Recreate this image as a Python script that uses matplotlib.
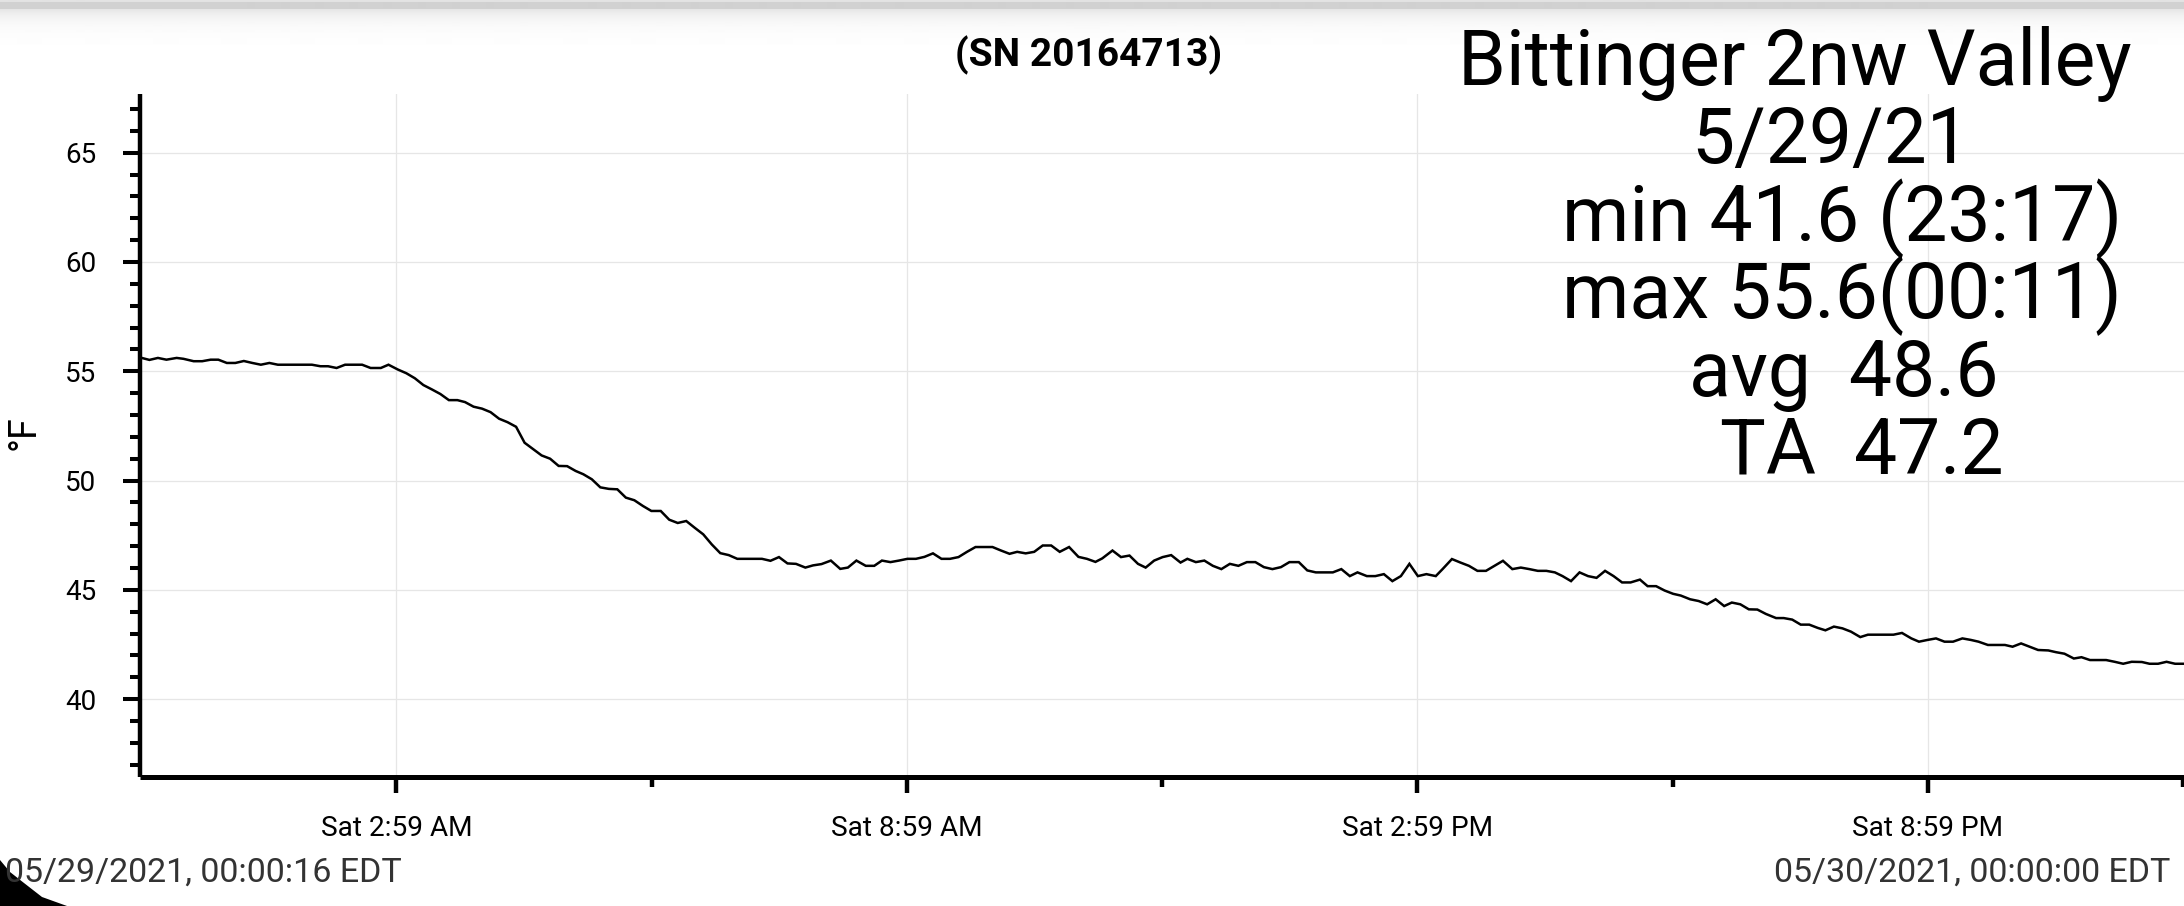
import numpy as np
import matplotlib
matplotlib.use("Agg")
import matplotlib.pyplot as plt
from matplotlib.patches import Polygon

plt.rcParams['font.family'] = ['Roboto', 'DejaVu Sans']

# ---------------- data ----------------
hours = [
    0.00, 0.08, 0.18, 0.28, 0.40, 0.48, 0.60, 0.70, 0.80, 0.89, 0.99, 1.09, 1.19, 1.29, 1.39, 1.49,
    1.59, 1.69, 1.79, 1.89, 1.99, 2.09, 2.18, 2.28, 2.38, 2.48, 2.58, 2.68, 2.80, 2.89, 3.00, 3.10,
    3.20, 3.30, 3.40, 3.50, 3.60, 3.70, 3.79, 3.89, 3.99, 4.09, 4.19, 4.29, 4.39, 4.49, 4.59, 4.69,
    4.79, 4.89, 4.99, 5.09, 5.18, 5.28, 5.38, 5.48, 5.58, 5.68, 5.78, 5.88, 5.98,
    6.09, 6.19, 6.29, 6.39, 6.49, 6.59, 6.69, 6.79, 6.89, 6.99, 7.09, 7.19, 7.28, 7.38, 7.48, 7.58,
    7.68, 7.79, 7.88, 7.98, 8.09, 8.20, 8.29, 8.39, 8.50, 8.60, 8.69, 8.79, 8.89, 8.99, 9.09, 9.19,
    9.29, 9.39, 9.49, 9.59, 9.69, 9.79, 9.89, 9.99, 10.09, 10.19, 10.28, 10.38, 10.48, 10.58, 10.68,
    10.78, 10.89, 11.00, 11.10, 11.20, 11.28, 11.40, 11.50, 11.60, 11.70, 11.79, 11.89, 11.99,
    12.09, 12.20, 12.28, 12.38, 12.48, 12.58, 12.68, 12.78, 12.88, 12.98, 13.08, 13.18, 13.28, 13.38,
    13.48, 13.59, 13.69, 13.79, 13.89, 13.99, 14.09, 14.19, 14.28, 14.39, 14.49, 14.59, 14.69, 14.79,
    14.89, 14.99, 15.09, 15.20, 15.28, 15.39, 15.49, 15.59, 15.69, 15.79, 15.89, 15.99, 16.10, 16.20,
    16.30, 16.40, 16.50, 16.60, 16.69, 16.79, 16.89, 16.99, 17.09, 17.19, 17.29, 17.39, 17.49, 17.60,
    17.69, 17.79, 17.89, 17.99,
    18.08, 18.19, 18.29, 18.39, 18.49, 18.59, 18.68, 18.78, 18.88, 18.98, 19.08, 19.20, 19.29, 19.39,
    19.49, 19.59, 19.69, 19.78, 19.88, 19.98, 20.08, 20.19, 20.28, 20.38, 20.48, 20.58, 20.68, 20.79,
    20.88, 20.98, 21.08, 21.18, 21.28, 21.39, 21.49, 21.58, 21.69, 21.79, 21.89, 21.98, 22.08, 22.18,
    22.28, 22.40, 22.49, 22.59, 22.70, 22.79, 22.89, 22.99, 23.08, 23.18, 23.28, 23.38, 23.50, 23.59,
    23.69, 23.79, 23.89, 24.00,
]
temps_f = [
    55.60, 55.52, 55.61, 55.53, 55.61, 55.57, 55.46, 55.46, 55.53, 55.53, 55.38, 55.38, 55.47, 55.38, 55.30, 55.38,
    55.30, 55.30, 55.30, 55.30, 55.30, 55.23, 55.23, 55.15, 55.30, 55.30, 55.30, 55.15, 55.15, 55.30, 55.08, 54.91,
    54.68, 54.37, 54.17, 53.96, 53.68, 53.68, 53.59, 53.38, 53.29, 53.13, 52.83, 52.67, 52.46, 51.73, 51.44, 51.15,
    51.00, 50.67, 50.66, 50.44, 50.29, 50.06, 49.69, 49.62, 49.60, 49.22, 49.10, 48.84, 48.61,
    48.61, 48.21, 48.06, 48.15, 47.84, 47.54, 47.08, 46.68, 46.59, 46.42, 46.42, 46.42, 46.42, 46.33, 46.50, 46.21,
    46.19, 46.02, 46.12, 46.18, 46.34, 45.96, 46.02, 46.34, 46.10, 46.10, 46.34, 46.27, 46.34, 46.42, 46.42, 46.51,
    46.67, 46.42, 46.42, 46.50, 46.74, 46.96, 46.96, 46.96, 46.80, 46.65, 46.74, 46.67, 46.74, 47.03, 47.03,
    46.74, 46.96, 46.51, 46.42, 46.28, 46.44, 46.80, 46.50, 46.57, 46.19, 46.02, 46.34, 46.50,
    46.59, 46.25, 46.42, 46.27, 46.34, 46.10, 45.95, 46.19, 46.10, 46.27, 46.27, 46.04, 45.95, 46.04,
    46.27, 46.27, 45.89, 45.80, 45.80, 45.80, 45.95, 45.63, 45.80, 45.63, 45.63, 45.72, 45.40, 45.63,
    46.19, 45.63, 45.72, 45.63, 45.95, 46.41, 46.25, 46.10, 45.87, 45.87, 46.10, 46.33, 45.95, 46.02,
    45.95, 45.87, 45.87, 45.80, 45.63, 45.40, 45.80, 45.63, 45.55, 45.87, 45.63, 45.34, 45.34, 45.47,
    45.17, 45.17, 44.97, 44.82,
    44.74, 44.57, 44.49, 44.34, 44.57, 44.26, 44.42, 44.34, 44.11, 44.10, 43.90, 43.71, 43.71, 43.64,
    43.41, 43.41, 43.26, 43.15, 43.32, 43.24, 43.09, 42.84, 42.95, 42.95, 42.95, 42.95, 43.03, 42.78,
    42.63, 42.71, 42.78, 42.63, 42.63, 42.78, 42.71, 42.63, 42.48, 42.48, 42.48, 42.40, 42.55, 42.40,
    42.25, 42.23, 42.15, 42.08, 41.86, 41.92, 41.79, 41.79, 41.79, 41.71, 41.62, 41.71, 41.70, 41.62,
    41.62, 41.71, 41.62, 41.62,
]

xtick_hours = [2.983, 8.983, 14.983, 20.983]
xtick_labels = ["Sat 2:59 AM", "Sat 8:59 AM", "Sat 2:59 PM", "Sat 8:59 PM"]
xminor_hours = [5.983, 11.983, 17.983, 23.983]
ytick_values = [40, 45, 50, 55, 60, 65]
yminor_values = [37, 38, 39, 41, 42, 43, 44, 46, 47, 48, 49, 51, 52, 53, 54,
                 56, 57, 58, 59, 61, 62, 63, 64, 66, 67]

serial_text = "(SN 20164713)"
info_lines = ["Bittinger 2nw Valley", "5/29/21", "min 41.6 (23:17)",
              "max 55.6(00:11)", "avg  48.6", "TA  47.2"]
start_text = "05/29/2021, 00:00:16 EDT"
end_text = "05/30/2021, 00:00:00 EDT"
y_label = "°F"

# ---------------- figure ----------------
W, H = 2184, 906
fig = plt.figure(figsize=(W / 100, H / 100), dpi=100)
fig.patch.set_facecolor('white')

def fx(px):
    return px / W

def fy(py):
    return 1 - py / H

# top shadow band
bg = fig.add_axes([0, fy(48), 1, 48 / H])
rows = np.arange(48)
shade = np.where(rows < 2, 0.89, np.where(rows < 9, 0.82, 1 - 0.1 * np.exp(-(rows - 9) / 11.0)))
bg.imshow(shade[:, None], aspect='auto', cmap='gray', vmin=0, vmax=1,
          extent=[0, 1, 0, 1], interpolation='bilinear')
bg.set_axis_off()

ax = fig.add_axes([fx(139.8), fy(777), 1 - fx(139.8), (777 - 94.3) / H])
ax.plot(hours, temps_f, color='black', lw=1.8, solid_joinstyle='miter')

ax.set_xlim(-0.033, 23.995)
ax.set_ylim(36.44, 67.67)

ax.set_xticks(xtick_hours)
ax.set_xticklabels(xtick_labels)
ax.set_xticks(xminor_hours, minor=True)
ax.set_yticks(ytick_values)
ax.set_yticks(yminor_values, minor=True)

for s in ['top', 'right']:
    ax.spines[s].set_visible(False)
ax.spines['left'].set_linewidth(3.2)
ax.spines['bottom'].set_linewidth(3.6)
ax.spines['left'].set_capstyle('butt')
ax.spines['bottom'].set_capstyle('butt')

ax.tick_params(axis='x', which='major', length=11.7, width=3.2, pad=16, labelsize=20.2, color='black')
ax.tick_params(axis='x', which='minor', length=7.0, width=3.2)
ax.tick_params(axis='y', which='major', length=12.5, width=2.9, pad=19, labelsize=20)
ax.tick_params(axis='y', which='minor', length=7.2, width=2.9)

ax.grid(True, which='major', color='#e6e6e6', lw=0.9)
ax.set_axisbelow(True)

# texts
fig.text(fx(1089), fy(66.7), serial_text, ha='center', va='baseline',
         fontsize=28, fontweight='bold', color='black')

info_x = [1795, 1831, 1842, 1842, 1844, 1862]
info_y = [85, 163, 241, 318, 396, 474]
for line, x, y in zip(info_lines, info_x, info_y):
    fig.text(fx(x), fy(y), line, ha='center', va='baseline', fontsize=55.3, color='black')

fig.text(fx(5), fy(882), start_text, ha='left', va='baseline', fontsize=24.5, color='#333333')
fig.text(fx(2170), fy(882), end_text, ha='right', va='baseline', fontsize=24.5, color='#333333')

fig.text(fx(24), fy(433), y_label, ha='center', va='center', rotation=90, fontsize=27, color='black')

# rounded screen corner artifact
corner = [(0, 860), (10, 872), (24, 883), (42, 897), (67, 906), (0, 906)]
fig.patches.append(Polygon([(fx(a), fy(b)) for a, b in corner], closed=True,
                           transform=fig.transFigure, facecolor='black', edgecolor='none'))

fig.savefig('out.png', dpi=100)
